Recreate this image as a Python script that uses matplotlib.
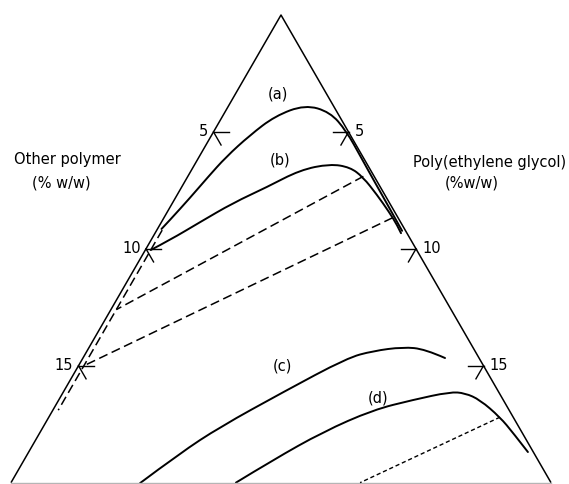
import numpy as np
import matplotlib.pyplot as plt
from matplotlib.path import Path
from matplotlib.patches import PathPatch

plt.rcParams['font.family'] = 'DejaVu Sans'

# Compositions in % w/w: peg = poly(ethylene glycol), other = other polymer
ticks = [5, 10, 15]
full_scale = 20

# Binodal curves (a)-(d)
a_peg = [0.15, 0.27, 0.54, 0.76, 1.0, 1.42, 1.94, 2.81, 3.89, 4.90, 6.0, 7.0, 8.0, 9.1]
a_other = [9.0, 8.50, 7.28, 6.17, 5.07, 3.72, 2.38, 1.03, 0.26, 0.06, 0.08, 0.10, 0.11, 0.13]

b_peg = [0.2, 0.70, 1.43, 2.24, 3.16, 4.02, 5.0, 5.81, 6.50, 7.40, 8.21, 8.79, 9.11]
b_other = [9.85, 8.92, 7.43, 5.80, 4.20, 2.61, 1.37, 0.70, 0.43, 0.29, 0.21, 0.19, 0.22]

c_peg = [4.79, 5.63, 6.55, 8.14, 9.78, 10.59, 11.62, 12.48, 13.41]
c_other = [15.23, 13.11, 11.07, 7.99, 4.89, 3.78, 2.58, 1.81, 1.26]

d_peg = [8.33, 9.22, 10.47, 11.85, 13.12, 14.32, 14.9, 15.60, 16.71, 17.53, 18.49]
d_other = [11.67, 9.81, 7.36, 5.04, 3.34, 1.80, 1.27, 0.86, 0.49, 0.34, 0.20]

# Dashed branch of (a) along the other-polymer axis
a_ext_peg = [0.2, 0.2]
a_ext_other = [9.0, 16.7]

# Tie lines: (peg, other) at both ends
tie_lines = [
    ((6.5, 0.4), (0.2, 12.4)),
    ((8.47, 0.2), (0.2, 14.8)),
]
tie_d = ((16.71, 0.49), (12.93, 7.07))

H = np.sqrt(3) / 2


def tern(peg, other):
    peg = np.asarray(peg, float)
    other = np.asarray(other, float)
    return 0.5 * (peg - other), -H * (peg + other)


def smooth_path(x, y):
    # quadratic segments through the midpoints, data points act as control points
    pts = np.column_stack([x, y])
    verts = [pts[0]]
    codes = [Path.MOVETO]
    for i in range(1, len(pts) - 1):
        mid = (pts[i] + pts[i + 1]) / 2
        if i == len(pts) - 2:
            mid = pts[i + 1]
        verts += [pts[i], mid]
        codes += [Path.CURVE3, Path.CURVE3]
    return Path(verts, codes)


fig = plt.figure(figsize=(5.69, 4.84), dpi=100)
ax = fig.add_axes([0, 0, 1, 1])
ax.set_xlim(-281 / 27, 288 / 27)
ax.set_ylim(-469 / 27, 15 / 27)
ax.axis('off')

# Triangle
x0, y0 = tern(0, 0)
xl, yl = tern(0, full_scale)
xr, yr = tern(full_scale, 0)
ax.plot([xl, x0, xr], [yl, y0, yr], color='black', lw=1.1, solid_capstyle='butt')
ax.plot([xl, xr], [yl, yr], color='#b5b5b5', lw=1.0)

# Tick marks and labels
L = 0.56
for v in ticks:
    px, py = tern(0, v)
    ax.plot([px, px + L], [py, py], color='black', lw=1.0)
    ax.plot([px, px + 0.5 * L], [py, py - H * L], color='black', lw=1.0)
    ax.text(px - 0.2, py, str(v), ha='right', va='center', fontsize=10.5)
    px, py = tern(v, 0)
    ax.plot([px, px - L], [py, py], color='black', lw=1.0)
    ax.plot([px, px - 0.5 * L], [py, py - H * L], color='black', lw=1.0)
    ax.text(px + 0.22, py, str(v), ha='left', va='center', fontsize=10.5)

# Curves
for peg, other in [(a_peg, a_other), (b_peg, b_other), (c_peg, c_other), (d_peg, d_other)]:
    x, y = tern(peg, other)
    ax.add_patch(PathPatch(smooth_path(x, y), facecolor='none', edgecolor='black',
                           lw=1.4, capstyle='round', joinstyle='round'))

x, y = tern(a_ext_peg, a_ext_other)
ax.plot(x, y, color='black', lw=1.1, dashes=(6, 3))

for (p1, o1), (p2, o2) in tie_lines:
    x, y = tern([p1, p2], [o1, o2])
    ax.plot(x, y, color='black', lw=1.1, dashes=(6, 3))

x, y = tern([tie_d[0][0], tie_d[1][0]], [tie_d[0][1], tie_d[1][1]])
ax.plot(x, y, color='black', lw=1.0, dashes=(3, 2))

# Curve labels
ax.text(-0.11, -2.93, '(a)', ha='center', va='center', fontsize=10.5)
ax.text(-0.04, -5.37, '(b)', ha='center', va='center', fontsize=10.5)
ax.text(0.07, -13.0, '(c)', ha='center', va='center', fontsize=10.5)
ax.text(3.59, -14.19, '(d)', ha='center', va='center', fontsize=10.5)

# Axis titles
ax.text(-7.9, -5.37, 'Other polymer', ha='center', va='center', fontsize=10.5)
ax.text(-8.15, -6.22, '(% w/w)', ha='center', va='center', fontsize=10.5)
ax.text(7.74, -5.48, 'Poly(ethylene glycol)', ha='center', va='center', fontsize=10.5)
ax.text(7.07, -6.22, '(%w/w)', ha='center', va='center', fontsize=10.5)

fig.savefig('out.png', dpi=100)
